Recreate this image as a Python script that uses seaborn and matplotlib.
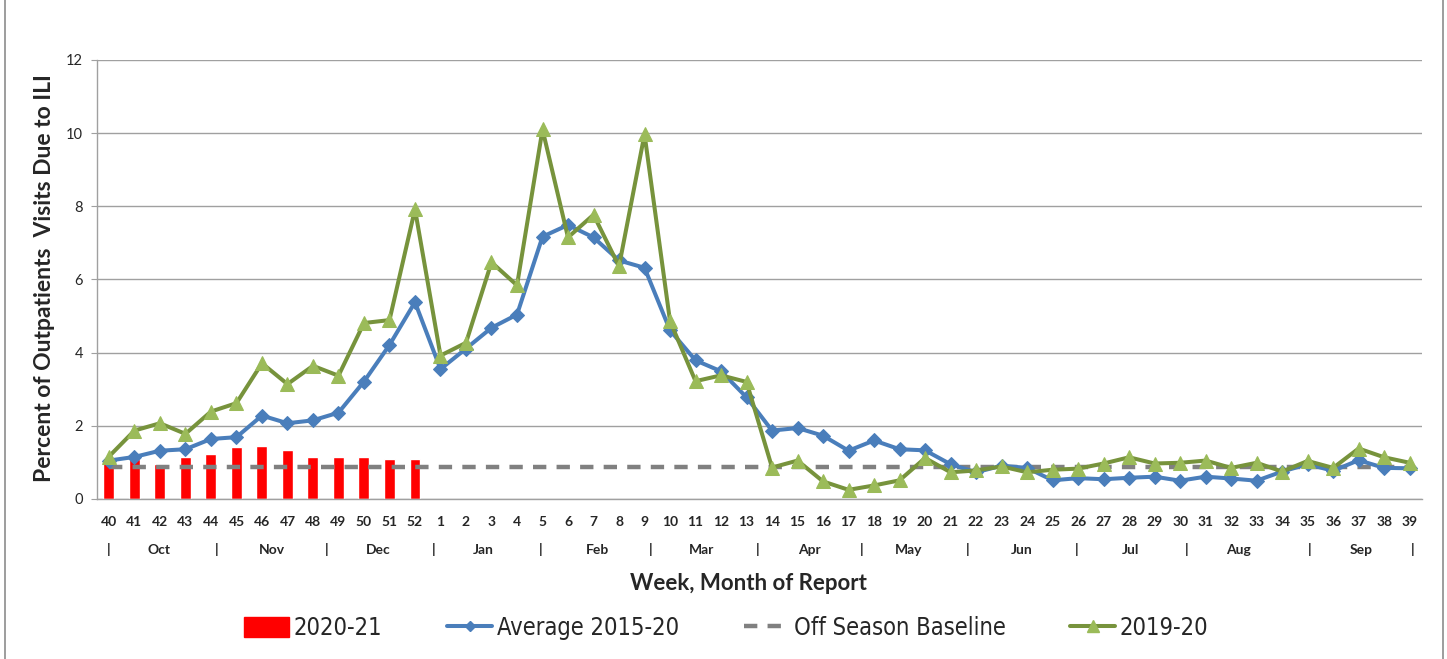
import numpy as np
import pandas as pd
import matplotlib
matplotlib.use("Agg")
import matplotlib.pyplot as plt
import matplotlib.transforms as mtransforms
from matplotlib.lines import Line2D
from matplotlib.patches import Patch
import seaborn as sns

# week of report, season runs week 40 to week 39
weeks = list(range(40, 53)) + list(range(1, 40))

# 2020-21 season so far (weeks 40-52)
season_2021 = [1.12, 1.10, 0.96, 1.16, 1.24, 1.41, 1.44, 1.35, 1.16, 1.16, 1.16, 1.10, 1.10]

avg_2015_20 = [1.05, 1.15, 1.32, 1.36, 1.64, 1.69, 2.28, 2.07, 2.15, 2.36, 3.21, 4.21, 5.38,
               3.55, 4.11, 4.68, 5.04, 7.17, 7.49, 7.15, 6.52, 6.32, 4.61, 3.79, 3.49, 2.78,
               1.87, 1.94, 1.73, 1.32, 1.60, 1.36, 1.33, 0.95, 0.73, 0.91, 0.85, 0.51, 0.57,
               0.54, 0.58, 0.61, 0.50, 0.61, 0.56, 0.50, 0.75, 0.95, 0.77, 1.06, 0.85, 0.84]

season_2019_20 = [1.16, 1.87, 2.07, 1.78, 2.39, 2.62, 3.71, 3.14, 3.64, 3.37, 4.81, 4.89, 7.92,
                  3.92, 4.27, 6.47, 5.84, 10.10, 7.15, 7.77, 6.36, 9.97, 4.86, 3.22, 3.38, 3.20,
                  0.86, 1.05, 0.48, 0.25, 0.37, 0.51, 1.12, 0.73, 0.78, 0.89, 0.73, 0.80, 0.83,
                  0.97, 1.14, 0.97, 0.99, 1.05, 0.85, 0.99, 0.75, 1.04, 0.85, 1.38, 1.14, 0.99]

baseline = 0.87

months = ["Oct", "Nov", "Dec", "Jan", "Feb", "Mar", "Apr", "May", "Jun", "Jul", "Aug", "Sep"]

# where the month names and "|" separators sit along the week axis
month_pos = [1.96, 6.39, 10.55, 14.67, 19.14, 23.25, 27.45, 31.37, 35.8, 40.04, 44.27, 49.1]
sep_pos = [0, 4.24, 8.55, 12.75, 16.94, 21.25, 25.45, 29.53, 33.69, 37.96, 42.27, 47.1, 51.1]

df = pd.DataFrame({"pos": np.arange(len(weeks)), "week": weeks,
                   "avg": avg_2015_20, "s1920": season_2019_20})
df["baseline"] = baseline
bars = df.iloc[:len(season_2021)].copy()
bars["s2021"] = season_2021

sns.set_style("white")
plt.rcParams["font.family"] = ["Lato", "DejaVu Sans"]

fig = plt.figure(figsize=(14.47, 6.59), dpi=100)
ax = fig.add_axes([0.067, 0.2428, 0.916, 0.6662])

RED = "#FF0000"
BLUE = "#4A7EBB"
GREEN_LINE = "#77933C"
GREEN_MARK = "#9BBB59"
GREY = "#808080"

sns.barplot(data=bars, x="pos", y="s2021", color=RED, width=0.43,
            native_scale=True, ax=ax, saturation=1, zorder=2)
ax.plot(df["pos"], df["baseline"], color=GREY, lw=3.2, ls=(0, (3, 2.3)), zorder=3)
sns.lineplot(data=df, x="pos", y="avg", color=BLUE, lw=2.9, marker="D",
             markersize=7, markeredgecolor=BLUE, ax=ax, zorder=4)
sns.lineplot(data=df, x="pos", y="s1920", color=GREEN_LINE, lw=2.9, marker="^",
             markersize=10, markerfacecolor=GREEN_MARK, markeredgecolor=GREEN_MARK,
             ax=ax, zorder=5)

ax.set_xlim(-0.47, 51.5)
ax.set_ylim(0, 12)
ax.set_yticks(range(0, 13, 2))
ax.yaxis.grid(True, color="#A0A0A0", lw=1)
ax.set_axisbelow(True)
ax.set_xticks(df["pos"])
ax.set_xticklabels([str(w) for w in weeks], fontweight="bold", fontsize=10)
ax.tick_params(axis="x", length=0, pad=12)
ax.tick_params(axis="y", length=4, color="#A0A0A0", labelsize=10.5, pad=6, direction="out", left=True)
ax.set_xlabel("")
ax.set_ylabel("")
for s in ["top", "right"]:
    ax.spines[s].set_visible(False)
for s in ["left", "bottom"]:
    ax.spines[s].set_color("#A0A0A0")
    ax.spines[s].set_linewidth(1)

trans = mtransforms.blended_transform_factory(ax.transData, ax.transAxes)
for p, m in zip(month_pos, months):
    ax.text(p, -0.116, m, transform=trans, ha="center", va="center",
            fontsize=10, fontweight="bold")
for p in sep_pos:
    ax.text(p, -0.116, "|", transform=trans, ha="center", va="center",
            fontsize=10, fontweight="bold")

fig.text(0.517, 0.115, "Week, Month of Report", ha="center", va="center",
         fontsize=16, fontweight="bold")
fig.text(0.031, 0.578, "Percent of Outpatients  Visits Due to ILI", ha="center",
         va="center", rotation=90, fontsize=16.5, fontweight="bold")

handles = [Patch(color=RED),
           Line2D([], [], color=BLUE, lw=2.9, marker="D", markersize=5),
           Line2D([], [], color=GREY, lw=3.2, ls=(0, (3, 2.3))),
           Line2D([], [], color=GREEN_LINE, lw=2.9, marker="^", markersize=8,
                  markerfacecolor=GREEN_MARK, markeredgecolor=GREEN_MARK)]
labels = ["2020-21", "Average 2015-20", "Off Season Baseline", "2019-20"]
fig.legend(handles, labels, loc="center", bbox_to_anchor=(0.502, 0.047), ncol=4,
           frameon=False, handlelength=1.9, handleheight=0.9, handletextpad=0.2,
           columnspacing=2.75,
           prop={"family": ["DejaVu Sans"], "stretch": "condensed", "size": 17})

# chart-area border lines on the left and right
fig.add_artist(Line2D([0.0035, 0.0035], [0, 1], color="#8C8C8C", lw=1.2,
                      transform=fig.transFigure))
fig.add_artist(Line2D([0.9975, 0.9975], [0, 1], color="#8C8C8C", lw=1.2,
                      transform=fig.transFigure))

fig.savefig("out.png", dpi=100)
